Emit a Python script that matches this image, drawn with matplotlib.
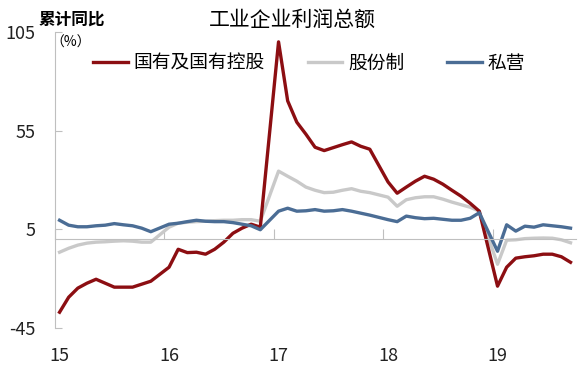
import numpy as np
import pandas as pd
import matplotlib
matplotlib.use("Agg")
import matplotlib.pyplot as plt

plt.rcParams['font.family'] = ['Noto Sans CJK SC', 'DejaVu Sans']
plt.rcParams['axes.unicode_minus'] = False

# 月份：每年 11 个点（1-2 月合并），2019 年到 9 个点
months = pd.period_range('2015-01', '2019-09', freq='M')
months = months[months.month != 12]

# 累计同比 (%)
state_owned = [-37.0, -29.4, -24.8, -22.3, -20.3, -22.3, -24.3, -24.3, -24.3, -22.8, -21.3,
               -14.2, -5.1, -6.8, -6.6, -7.6, -5.1, -1.5, 3.0, 5.6, 7.6, 6.1,
               100.0, 70.1, 59.3, 53.2, 46.6, 44.9, 46.4, 47.9, 49.3, 47.1, 45.6,
               29.0, 23.3, 26.4, 29.4, 31.9, 30.4, 27.9, 24.8, 21.8, 18.2, 14.2,
               -23.8, -14.2, -9.6, -8.9, -8.4, -7.6, -7.6, -8.9, -11.7]
shareholding = [-6.6, -4.6, -3.0, -2.0, -1.5, -1.3, -1.0, -0.8, -1.0, -1.5, -1.5,
                6.1, 8.1, 8.6, 8.9, 9.1, 9.4, 9.6, 9.6, 9.9, 9.9, 9.1,
                34.5, 31.9, 29.4, 26.4, 24.8, 23.6, 23.8, 24.8, 25.6, 24.3, 23.6,
                21.3, 16.7, 20.0, 21.0, 21.5, 21.5, 20.3, 18.8, 17.5, 16.2, 14.2,
                -12.7, -0.5, -0.3, 0.3, 0.5, 0.6, 0.5, -0.3, -1.8]
private = [9.6, 7.1, 6.3, 6.3, 6.8, 7.1, 7.9, 7.3, 6.8, 5.6, 3.8,
           7.6, 8.1, 8.9, 9.6, 9.1, 8.9, 8.9, 8.4, 7.6, 6.8, 4.8,
           14.2, 15.7, 14.2, 14.4, 15.0, 14.2, 14.4, 15.0, 14.2, 13.2, 12.2,
           9.9, 8.9, 11.7, 10.9, 10.4, 10.6, 10.1, 9.6, 9.6, 10.6, 13.4,
           -6.1, 7.3, 4.1, 6.6, 6.1, 7.3, 6.8, 6.3, 5.6]

years = [2015, 2016, 2017, 2018, 2019]
year_labels = ['15', '16', '17', '18', '19']
y_ticks = [-45, 5, 55, 105]

# 月份 -> 横轴位置（按月排布）
x = np.array([(p.year - 2015) * 12 + p.month - 1 for p in months])
year_pos = np.array([(y - 2015) * 12 for y in years])

fig = plt.figure(figsize=(5.84, 3.71), dpi=100)
ax = fig.add_axes([55 / 584, 1 - 328 / 371, 521 / 584, 296 / 371])

ax.plot(x, shareholding, color='#C9C9C9', lw=2.4, label='股份制', solid_joinstyle='round')
ax.plot(x, state_owned, color='#8C0E12', lw=2.4, label='国有及国有控股', solid_joinstyle='round')
ax.plot(x, private, color='#4B6D95', lw=2.4, label='私营', solid_joinstyle='round')

ax.set_ylim(-45, 105)
ax.set_xlim(-0.5, 56.6)
ax.set_yticks(y_ticks)
ax.tick_params(axis='y', direction='in', length=5, color='#BFBFBF', pad=14,
               labelsize=13, labelcolor='#222222')

# 横轴线在 0 处，刻度朝上
ax.spines['bottom'].set_position(('data', 0))
ax.spines['bottom'].set_color('#BFBFBF')
ax.spines['left'].set_color('#BFBFBF')
ax.spines['top'].set_visible(False)
ax.spines['right'].set_visible(False)
ax.set_xticks(year_pos - 0.5)
ax.tick_params(axis='x', direction='in', length=7, color='#BFBFBF', labelbottom=False)

# 年份标签放在图底部
sec = ax.secondary_xaxis('bottom')
sec.set_xticks(year_pos, labels=year_labels)
sec.tick_params(length=0, pad=14, labelsize=13, labelcolor='#222222')
sec.spines['bottom'].set_visible(False)

handles, labels = ax.get_legend_handles_labels()
order = [1, 0, 2]
ax.legend([handles[i] for i in order], [labels[i] for i in order],
          loc='center left', bbox_to_anchor=(93 / 584, 1 - 63 / 371),
          bbox_transform=fig.transFigure, ncol=3, frameon=False, fontsize=13.5,
          handlelength=1.85, handletextpad=0.3, columnspacing=2.3, borderpad=0,
          borderaxespad=0)

fig.text(292 / 584, 1 - 20 / 371, '工业企业利润总额', ha='center', va='center', fontsize=15)
fig.text(39 / 584, 1 - 19.5 / 371, '累计同比', ha='left', va='center', fontsize=12,
         fontweight='bold')
fig.text(50 / 584, 1 - 42.5 / 371, '（%）', ha='left', va='center', fontsize=10)

fig.savefig('out.png', dpi=100)
